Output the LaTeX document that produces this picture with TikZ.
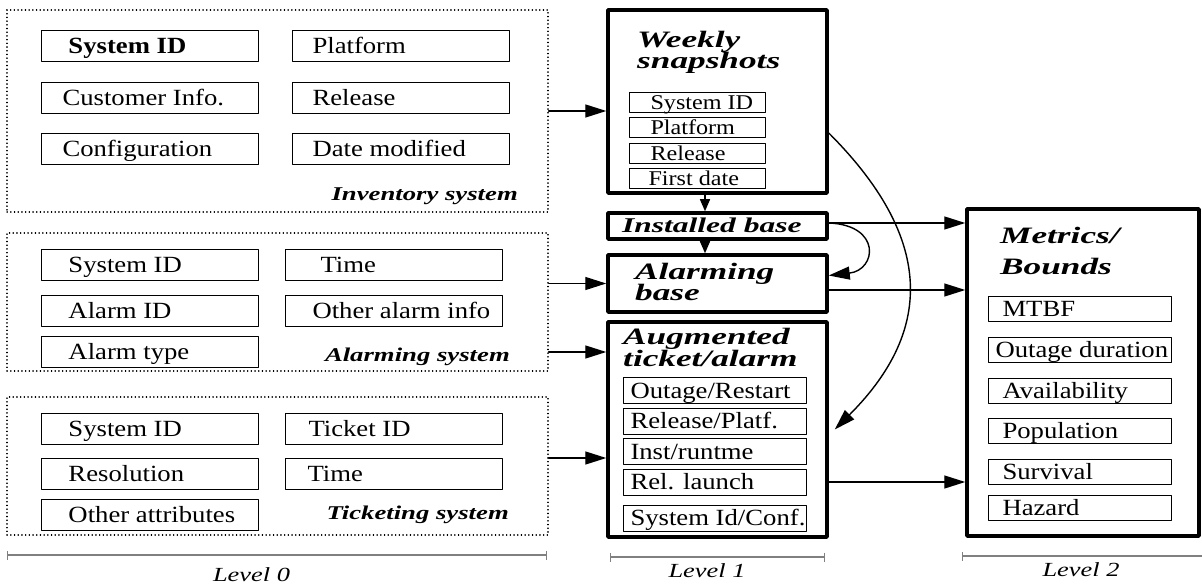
\documentclass[tikz,border=0pt]{standalone}
\usepackage{fontspec}
\setmainfont{Liberation Serif}
\newfontfamily\fieldfont[FakeStretch=1.15]{Liberation Serif}
\newfontfamily\titlefont[FakeStretch=1.5]{Liberation Serif}
\newfontfamily\tagfont[FakeStretch=1.37]{Liberation Serif}
\newfontfamily\levelfont[FakeStretch=1.32]{Liberation Serif}
\usetikzlibrary{arrows.meta}

\tikzset{
  sysbox/.style={draw, line width=1.3pt, dash pattern=on 0.3pt off 3.4pt, inner sep=0pt},
  stagebox/.style={draw, line width=3.5pt, inner sep=0pt},
  field/.style={draw, line width=1pt, inner sep=0pt, anchor=north west,
    text height=15pt, text depth=0pt, font=\fieldfont\fontsize{23.2}{26}\selectfont},
  title/.style={inner sep=0pt, anchor=base west, align=left,
    font=\titlefont\bfseries\itshape\fontsize{23.5}{21}\selectfont},
  tag/.style={inner sep=0pt, anchor=base east,
    font=\tagfont\bfseries\itshape\fontsize{19.5}{21}\selectfont},
  level/.style={inner sep=0pt, anchor=base, font=\levelfont\itshape\fontsize{20}{22}\selectfont},
  levelbar/.style={black!50, line width=1.2pt, {Bar[width=9pt]}-{Bar[width=9pt]}},
  flow/.style={line width=1.4pt, -{Triangle[length=21pt,width=13pt]}},
  drop/.style={line width=1.4pt, -{Triangle[length=12pt,width=10pt]}}
}

\begin{document}
\setlength{\lineskiplimit}{-40pt}% tight two-line titles
\begin{tikzpicture}[line cap=round,line join=round,x=1pt,y=-1pt]
\useasboundingbox (0,0) rectangle (1202,585);

% level 0: the three source systems
\node[sysbox, minimum width=541pt, minimum height=202pt] (inv) at (277.5,111) {};
\node[sysbox, minimum width=541pt, minimum height=138pt] (alm) at (277.5,302) {};
\node[sysbox, minimum width=541pt, minimum height=138pt] (tkt) at (277.5,466) {};

\foreach \nm/\x/\y/\ind/\txt in {isys/41/30/27/{\bfseries System ID}, icus/41/82/21/Customer Info.,
    icfg/41/133/21/Configuration, iplt/292/30/20/Platform, irel/292/82/20/Release,
    idat/292/133/20/Date modified,
    asys/41/249/27/System ID, aaid/41/295/27/Alarm ID, atyp/41/336/27/Alarm type,
    atim/285/249/35/Time, aoth/285/295/27/Other alarm info,
    tsys/41/413/27/System ID, tres/41/458/27/Resolution, tatt/41/499/27/Other attributes,
    ttid/285/413/23/Ticket ID, ttim/285/458/22/Time}
  \node[field, minimum height=31pt] (\nm) at (\x,\y) {\makebox[217pt][l]{\hspace{\ind pt}\txt}};

\node[tag] (invtag) at (518,201) {Inventory system};
\node[tag] (almtag) at (510,361) {Alarming system};
\node[tag] (tkttag) at (509,519) {Ticketing system};

% level 1: derived tables (title anchors sit on the last line)
\node[stagebox, minimum width=219pt, minimum height=183pt] (wks) at (717.5,101.5) {};
\node[stagebox, minimum width=219pt, minimum height=26pt] (inb) at (717.5,226) {};
\node[stagebox, minimum width=219pt, minimum height=57pt] (alb) at (717.5,283.5) {};
\node[stagebox, minimum width=219pt, minimum height=215pt] (aug) at (717.5,429.5) {};

\node[title] (wkst) at (637,69) {Weekly\\snapshots};
\node[title, font=\titlefont\bfseries\itshape\fontsize{21}{21}\selectfont] (inbt) at (622,233) {Installed base};
\node[title] (albt) at (635,301) {Alarming\\base};
\node[title] (augt) at (623,366) {Augmented\\ticket/alarm};

\foreach \nm/\y/\ind/\txt in {wsys/92.5/21/System ID, wplt/117/21/Platform,
    wrel/143/21/Release, wfst/168/19/First date}
  \node[field, minimum height=20pt, text height=13.9pt, font=\fieldfont\fontsize{21}{24}\selectfont]
    (\nm) at (629,\y) {\makebox[136pt][l]{\hspace{\ind pt}\txt}};

\foreach \nm/\y/\txt in {aout/377/{Outage/Restart}, arpl/407.5/{Release/Platf.},
    ains/438/{Inst/runtme}, arel/468.5/{Rel. launch}, asid/504.5/{System Id/Conf.}}
  \node[field, minimum height=26pt] (\nm) at (623,\y) {\makebox[183pt][l]{\hspace{7pt}\txt}};

% level 2: metrics
\node[stagebox, minimum width=232pt, minimum height=327pt] (met) at (1083,372.5) {};
\node[title] (mett) at (1000,275) {Metrics/\\[10pt]Bounds};

\foreach \nm/\y/\ind/\txt in {mtbf/296/14/MTBF, mout/337/7/Outage duration,
    mavl/378/14/Availability, mpop/418/14/Population, msur/459/14/Survival, mhaz/495/14/Hazard}
  \node[field, minimum height=25pt] (\nm) at (988,\y) {\makebox[183pt][l]{\hspace{\ind pt}\txt}};

% data flow
\draw[flow] (inv.east) -- (inv.east -| wks.west);
\draw[flow] (alm.east |- alb.west) -- (alb.west);
\draw[flow] (atyp -| alm.east) -- (atyp -| aug.west);
\draw[flow] ([yshift=8pt]tkt.east) -- ([yshift=8pt]tkt.east -| aug.west);
\draw[drop] ([xshift=-12.5pt]wks.south) -- ([xshift=-12.5pt]inb.north);
\draw[drop] ([xshift=-12.5pt]inb.south) -- ([xshift=-12.5pt]alb.north);
\draw[flow] ([yshift=3pt]inb.east) -- ([yshift=3pt]inb.east -| met.west);
\draw[flow] ([yshift=-6.5pt]alb.east) -- ([yshift=-6.5pt]alb.east -| met.west);
\draw[flow] (arel -| aug.east) -- (arel -| met.west);
\draw[flow] ([yshift=3pt]inb.east) .. controls +(53,2) and +(48,-5.5) .. ([yshift=8pt]alb.east);
\draw[flow] ([yshift=-31.5pt]wks.east) .. controls +(102,102) and +(102,-102) .. ([xshift=6pt]aug.east);

% levels
\draw[levelbar] (7,555) -- (547,555);
\draw[levelbar] (610,557) -- (825,557);
\draw[levelbar] (962,556) -- (1215,556);
\node[level] (lvl0) at (251.5,581) {Level 0};
\node[level] (lvl1) at (707,577) {Level 1};
\node[level] (lvl2) at (1081,576) {Level 2};
\end{tikzpicture}
\end{document}
